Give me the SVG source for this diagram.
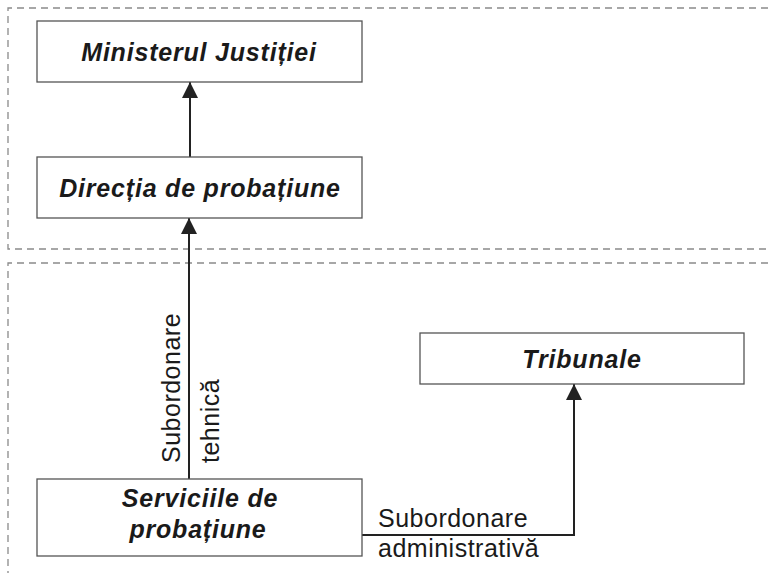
<svg xmlns="http://www.w3.org/2000/svg" width="770" height="573" viewBox="0 0 770 573">
<style>
.frame{fill:none;stroke:#8a8a8a;stroke-width:1.3;stroke-dasharray:7 5}
.box{fill:#fff;stroke:#555;stroke-width:1.3}
.nt{font-family:"Liberation Sans",Arial,sans-serif;font-size:25px;letter-spacing:0.8px;font-weight:bold;font-style:italic;fill:#1a1a1a;text-anchor:middle}
.lt{font-family:"Liberation Sans",Arial,sans-serif;font-size:25px;letter-spacing:0.5px;fill:#1a1a1a}
.con{fill:none;stroke:#222;stroke-width:2}
</style>
<defs>
<marker id="ah" markerWidth="16" markerHeight="16" viewBox="0 0 16 16" refX="16" refY="8" orient="auto" markerUnits="userSpaceOnUse">
<path d="M0,0 L16,8 L0,16 Z" fill="#222"/>
</marker>
</defs>
<g id="frames">
<path class="frame" d="M780,8 H8 V249 H780"/>
<path class="frame" d="M780,263 H8 V580"/>
</g>
<g id="connectors">
<line class="con" x1="190" y1="157" x2="190" y2="82" marker-end="url(#ah)"/>
<line class="con" x1="189" y1="479" x2="189" y2="218" marker-end="url(#ah)"/>
<polyline class="con" points="362,535 574,535 574,384" marker-end="url(#ah)"/>
<text class="lt" transform="translate(180,463) rotate(-90)">Subordonare</text>
<text class="lt" transform="translate(219,463) rotate(-90)">tehnică</text>
<text class="lt" x="378" y="527">Subordonare</text>
<text class="lt" x="378" y="557">administrativă</text>
</g>
<g id="ministerul">
<rect class="box" x="37" y="21" width="325" height="61"/>
<text class="nt" x="199" y="61">Ministerul Justiției</text>
</g>
<g id="directia">
<rect class="box" x="37" y="157" width="325" height="61"/>
<text class="nt" x="200" y="197">Direcția de probațiune</text>
</g>
<g id="tribunale">
<rect class="box" x="420" y="333" width="324" height="51"/>
<text class="nt" x="582" y="368">Tribunale</text>
</g>
<g id="serviciile">
<rect class="box" x="37" y="479" width="325" height="77"/>
<text class="nt" x="200" y="507">Serviciile de</text>
<text class="nt" x="198" y="538">probațiune</text>
</g>
</svg>
